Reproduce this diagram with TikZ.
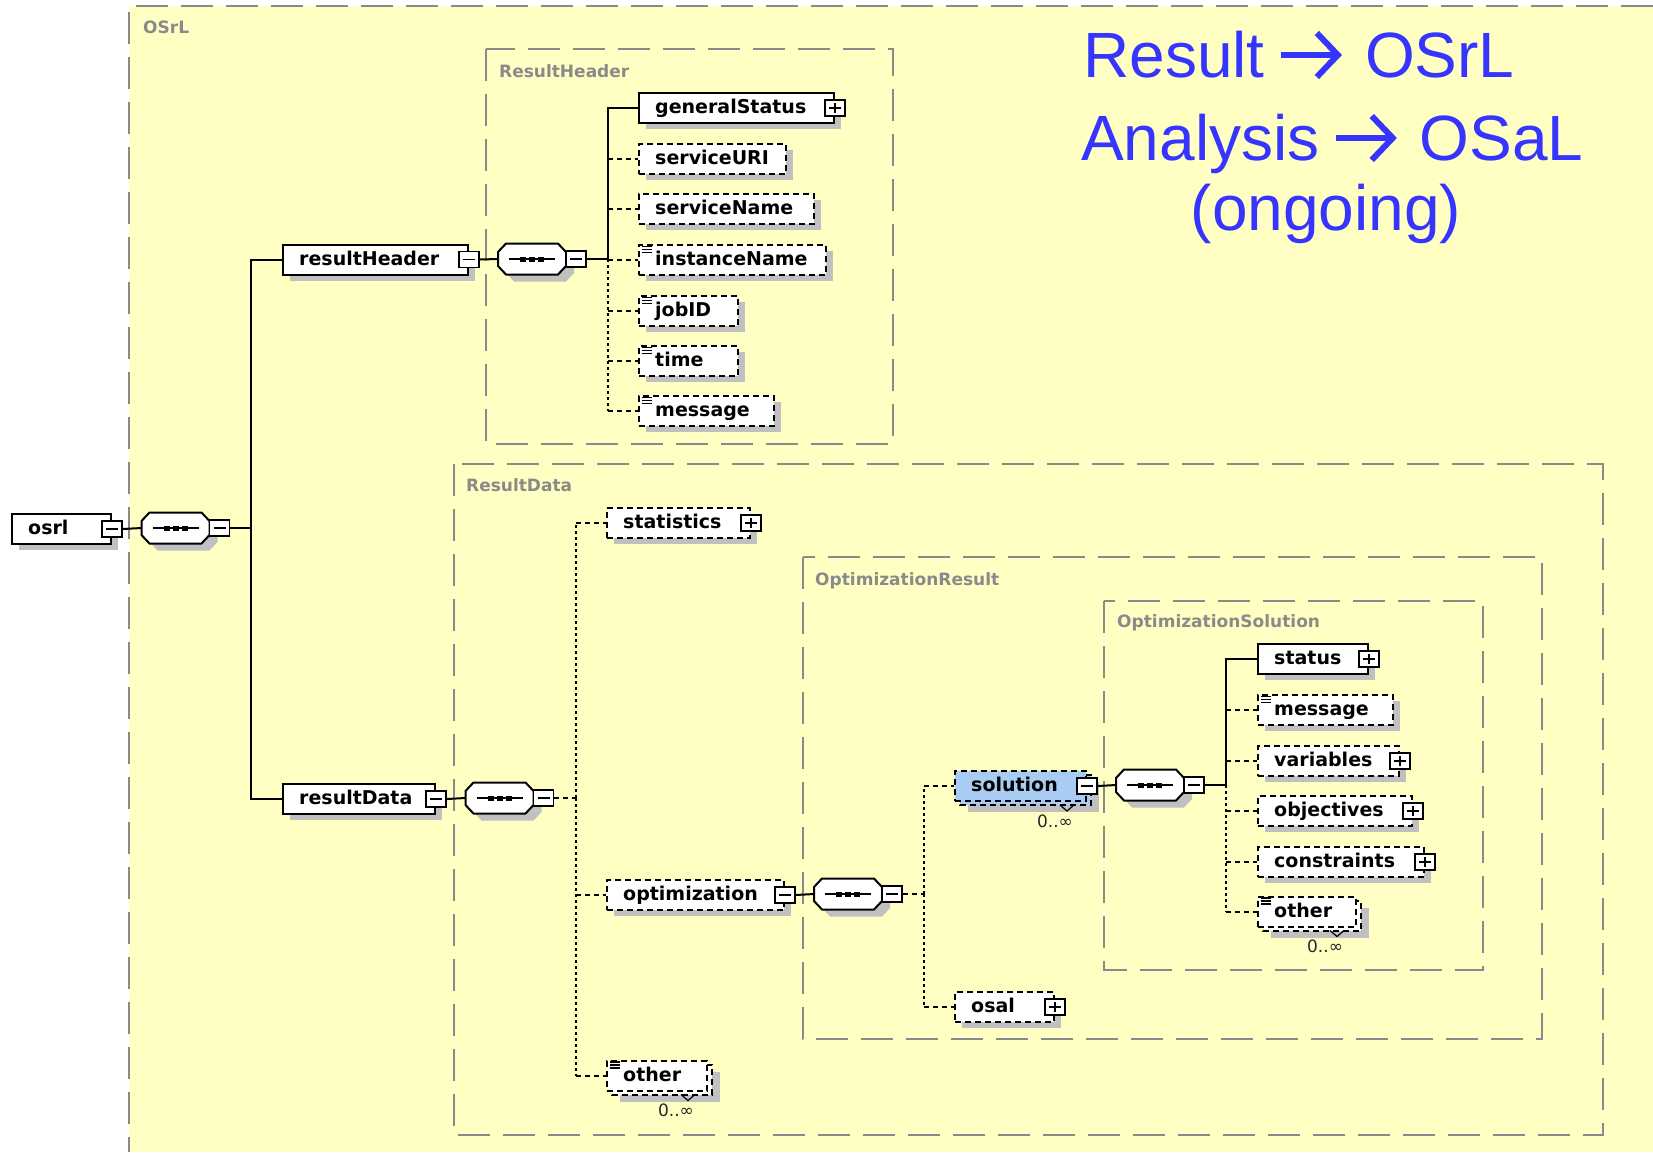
\documentclass[tikz,border=0pt]{standalone}
\usepackage{fontspec}
\newfontfamily\lblfont{DejaVu Sans}
\newfontfamily\ttlfont{Liberation Sans}
\usetikzlibrary{calc}
\definecolor{bgyellow}{HTML}{FFFFC4}
\definecolor{shadowc}{HTML}{C0C0C0}
\definecolor{grpgray}{HTML}{8A8A8A}
\definecolor{solblue}{HTML}{A8CCF2}
\definecolor{ttlblue}{HTML}{3535FF}
\tikzset{
  elbox/.style={draw=black,fill=white,line width=2pt,inner sep=0pt,minimum height=30pt},
  optbox/.style={dash pattern=on 6pt off 4pt},
  solbox/.style={fill=solblue},
  lbl/.style={inner sep=0pt,font=\fontsize{19}{19}\selectfont\lblfont\bfseries},
  glbl/.style={inner sep=0pt,text=grpgray,font=\fontsize{17}{17}\selectfont\lblfont\bfseries},
  mult/.style={inner sep=0pt,text=black!85,font=\fontsize{17}{17}\selectfont\lblfont},
  ttl/.style={inner sep=0pt,text=ttlblue,font=\fontsize{64}{64}\selectfont\ttlfont},
  ttlarrow/.style={draw=ttlblue,line width=6pt,line cap=butt},
  grp/.style={draw=grpgray,line width=2pt,dash pattern=on 32pt off 13pt},
  conn/.style={draw=black,line width=2pt},
  vdot/.style={draw=black,line width=2pt,dash pattern=on 3pt off 3pt},
  hdash/.style={draw=black,line width=2pt,dash pattern=on 5pt off 4pt},
  pmbox/.style={draw=black,fill=white,line width=1.5pt,minimum width=20pt,minimum height=16pt,inner sep=0pt},
  pmminus/.style={pmbox,path picture={\draw[line width=1.4pt] ([xshift=4pt]path picture bounding box.west) -- ([xshift=-4pt]path picture bounding box.east);}},
  pmplus/.style={pmbox,path picture={\draw[line width=1.4pt] ([xshift=4pt]path picture bounding box.west) -- ([xshift=-4pt]path picture bounding box.east);
     \draw[line width=1.4pt] ([yshift=-3pt]path picture bounding box.north) -- ([yshift=3pt]path picture bounding box.south);}},
  seqshape/.style={inner sep=0pt,minimum width=68pt,minimum height=31pt}
}
% element: [style]{name}{left}{cy}{right}{text}
\newcommand\elem[6][]{%
  \pgfmathsetmacro\ew{#5-#3}%
  \fill[shadowc] ({#3+8},{#4-8}) rectangle ({#5+8},{#4+22});
  \node[elbox,#1,anchor=north west,minimum width=\ew pt] (#2) at (#3,{#4-15}) {};
  \node[lbl,anchor=base west] (#2-l) at ({#3+17},{#4+6.5}) {#6};
}
% repeated element (0..inf)
\newcommand\relem[6][]{%
  \pgfmathsetmacro\ew{#5-#3}%
  \fill[shadowc] ({#3+14},{#4-3}) rectangle ({#5+14},{#4+27});
  \path[elbox,#1] ({#3+6},{#4-10}) rectangle ({#5+6},{#4+20});
  \draw[line width=1.2pt] ({#5-25},{#4+20}) -- ({#5-18},{#4+26}) -- ({#5-11},{#4+20});
  \node[elbox,#1,anchor=north west,minimum width=\ew pt] (#2) at (#3,{#4-15}) {};
  \node[lbl,anchor=base west] (#2-l) at ({#3+17},{#4+6.5}) {#6};
  \node[mult] (#2-m) at ({#5-30},{#4+36}) {0..∞};
}
\newcommand\docicon[1]{%
  \foreach \dy in {2.5,5.5,8.5}{\draw[line width=1.1pt] ([xshift=4pt,yshift=-\dy pt]#1.north west) -- ++(10,0);}%
}
\newcommand\octpath[2]{({#1-34},{#2-7}) -- ({#1-26},{#2-15.5}) -- ({#1+26},{#2-15.5}) -- ({#1+34},{#2-7}) -- ({#1+34},{#2+7}) -- ({#1+26},{#2+15.5}) -- ({#1-26},{#2+15.5}) -- ({#1-34},{#2+7}) -- cycle}
% sequence: {name}{cx}{cy}
\newcommand\seqnode[3]{%
  \fill[shadowc] \octpath{#2+8}{#3+7};
  \filldraw[fill=white,draw=black,line width=2pt] \octpath{#2}{#3};
  \draw[line width=1.5pt] ({#2-23},#3) -- ({#2+23},#3);
  \foreach \dx in {-9,0,9}{\fill ({#2+\dx-3},{#3-2.5}) rectangle ({#2+\dx+3},{#3+2.5});}
  \node[seqshape] (#1) at (#2,#3) {};
  \node[pmminus] (#1-pm) at ({#2+44},#3) {};
}
\newcommand\optlink[2]{%
  \draw[vdot] (#1) -- (#1 |- #2.west);
  \draw[hdash] (#1 |- #2.west) -- (#2.west);
}
\newcommand\reqlink[2]{\draw[conn] (#1) |- (#2.west);}
% title arrow after node #1 (base east)
\newcommand\ttlarr[1]{%
  \draw[ttlarrow] ([xshift=16pt,yshift=22pt]#1.base east) -- ([xshift=72pt,yshift=22pt]#1.base east);
  \draw[ttlarrow,line join=miter] ([xshift=52pt,yshift=44pt]#1.base east) -- ([xshift=73pt,yshift=22pt]#1.base east) -- ([xshift=52pt,yshift=0pt]#1.base east);
}

\begin{document}
\begin{tikzpicture}[x=1pt,y=-1pt]
\useasboundingbox (0,0) rectangle (1653,1152);
\fill[bgyellow] (129,6) rectangle (1653,1152);
\draw[grp] (1653,6) -- (129,6) -- (129,1152);
\node[glbl,anchor=base west] (g-osrl) at (143,33) {OSrL};

% groups
\draw[grp] (486,49) rectangle (893,444);
\node[glbl,anchor=base west] (g-rh) at (499,77.5) {ResultHeader};
\draw[grp] (454,464) rectangle (1603,1135);
\node[glbl,anchor=base west] (g-rd) at (466,491) {ResultData};
\draw[grp] (803,557) rectangle (1542,1039);
\node[glbl,anchor=base west] (g-or) at (815,585) {OptimizationResult};
\draw[grp] (1104,601) rectangle (1483,970);
\node[glbl,anchor=base west] (g-os) at (1117,627) {OptimizationSolution};

% title
\node[ttl,anchor=base west] (t-a1) at (1083,77) {Result};
\node[ttl,anchor=base west] (t-a2) at ([xshift=100pt]t-a1.base east) {OSrL};
\ttlarr{t-a1}
\node[ttl,anchor=base west] (t-b1) at (1081,160) {Analysis};
\node[ttl,anchor=base west] (t-b2) at ([xshift=100pt]t-b1.base east) {OSaL};
\ttlarr{t-b1}
\node[ttl,anchor=base] (t-c) at (1326,230) {(ongoing)};

% root
\elem{osrl}{11}{528}{110}{osrl}
\node[pmminus] (osrl-pm) at (osrl.east) {};
\seqnode{seq1}{175.5}{528}
\elem{rh}{282}{258.5}{467}{resultHeader}
\node[pmminus] (rh-pm) at (rh.east) {};
\elem{rd}{282}{798}{434}{resultData}
\node[pmminus] (rd-pm) at (rd.east) {};

% result header
\seqnode{seqrh}{532}{259}
\elem{gs}{638}{107}{833}{generalStatus}
\node[pmplus] (gs-pm) at (gs.east) {};
\elem[optbox]{suri}{638}{158}{785}{serviceURI}
\elem[optbox]{sname}{638}{208}{813}{serviceName}
\elem[optbox]{iname}{638}{259}{825}{instanceName}
\elem[optbox]{jobid}{638}{310}{737}{jobID}
\elem[optbox]{time}{638}{360}{737}{time}
\elem[optbox]{msg}{638}{410}{773}{message}
\docicon{iname}\docicon{jobid}\docicon{time}\docicon{msg}

% result data
\seqnode{seqrd}{499.5}{798}
\elem[optbox]{stat}{606}{522}{749}{statistics}
\node[pmplus] (stat-pm) at (stat.east) {};
\elem[optbox]{optm}{606}{894}{783}{optimization}
\node[pmminus] (optm-pm) at (optm.east) {};
\relem[optbox]{oth1}{606}{1074.5}{706}{other}
\docicon{oth1}

% optimization
\seqnode{seqop}{848}{894}
\relem[optbox,solbox]{sol}{954}{785}{1085}{solution}
\node[pmminus] (sol-pm) at (sol.east) {};
\elem[optbox]{osal}{954}{1006}{1053}{osal}
\node[pmplus] (osal-pm) at (osal.east) {};

% solution
\seqnode{seqso}{1150}{785}
\elem{status}{1257}{658}{1367}{status}
\node[pmplus] (status-pm) at (status.east) {};
\elem[optbox]{msg2}{1257}{709}{1392}{message}
\docicon{msg2}
\elem[optbox]{vars}{1257}{760}{1398}{variables}
\node[pmplus] (vars-pm) at (vars.east) {};
\elem[optbox]{objs}{1257}{810}{1411}{objectives}
\node[pmplus] (objs-pm) at (objs.east) {};
\elem[optbox]{cons}{1257}{861}{1423}{constraints}
\node[pmplus] (cons-pm) at (cons.east) {};
\relem[optbox]{oth2}{1257}{910.5}{1355}{other}
\docicon{oth2}

% connectors
\coordinate (t1) at (251,528);
\coordinate (t2) at (608,259);
\coordinate (t3) at (576,798);
\coordinate (t4) at (924,894);
\coordinate (t5) at (1226,785);

\draw[conn] (osrl-pm.east) -- (seq1.west);
\draw[conn] (seq1-pm.east) -- (t1);
\reqlink{t1}{rh}
\reqlink{t1}{rd}

\draw[conn] (rh-pm.east) -- (seqrh.west);
\draw[conn] (seqrh-pm.east) -- (t2);
\optlink{t2}{suri}\optlink{t2}{sname}\optlink{t2}{iname}
\optlink{t2}{jobid}\optlink{t2}{time}\optlink{t2}{msg}
\reqlink{t2}{gs}

\draw[conn] (rd-pm.east) -- (seqrd.west);
\draw[hdash] (seqrd-pm.east) -- (t3);
\optlink{t3}{stat}\optlink{t3}{optm}\optlink{t3}{oth1}

\draw[conn] (optm-pm.east) -- (seqop.west);
\draw[hdash] (seqop-pm.east) -- (t4);
\optlink{t4}{sol}\optlink{t4}{osal}

\draw[conn] (sol-pm.east) -- (seqso.west);
\draw[conn] (seqso-pm.east) -- (t5);
\optlink{t5}{msg2}\optlink{t5}{vars}\optlink{t5}{objs}
\optlink{t5}{cons}\optlink{t5}{oth2}
\reqlink{t5}{status}
\end{tikzpicture}
\end{document}
